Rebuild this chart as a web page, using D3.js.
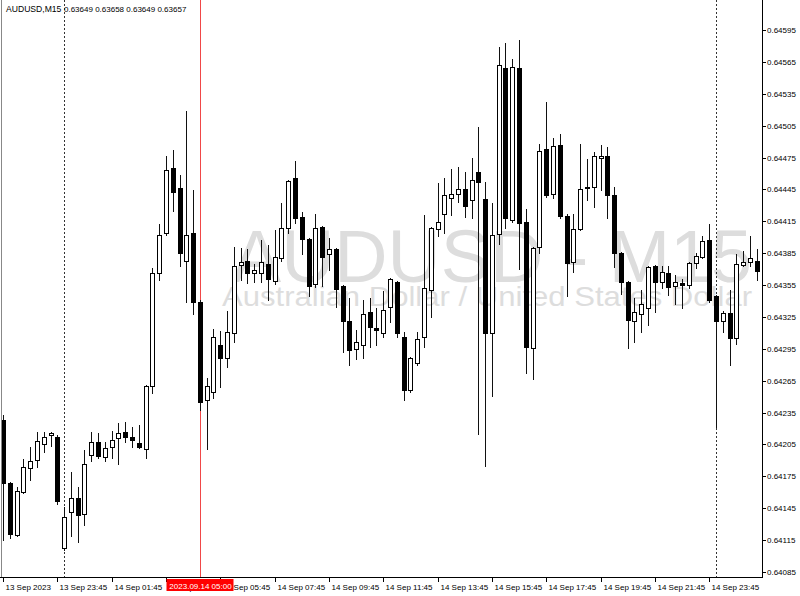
<!DOCTYPE html>
<html>
<head>
<meta charset="utf-8">
<script src="https://cdn.jsdelivr.net/npm/d3@7/dist/d3.min.js"></script>
<style>
  html, body { margin: 0; padding: 0; background: #fff; }
  svg { display: block; }
  text { font-family: "Liberation Sans", Arial, sans-serif; }
</style>
</head>
<body>
<svg id="chart" width="800" height="596"></svg>
<script>
// AUDUSD M15, 13 Sep 2023 21:45 .. 15 Sep 2023 01:30
var symbolTitle = "AUDUSD,M15";
var headerQuote = "0.63649 0.63658 0.63649 0.63657";
var watermarkTitle = "AUDUSD - M15";
var watermarkSub = "Australian Dollar / United States Dollar";

var opens = [
  0.64228, 0.64169, 0.64120, 0.64160, 0.64183, 0.64190, 0.64205, 0.64214, 0.64212, 0.64108,
  0.64141, 0.64155, 0.64140, 0.64195, 0.64207, 0.64193, 0.64203, 0.64211, 0.64217, 0.64212,
  0.64206, 0.64201, 0.64260, 0.64366, 0.64404, 0.64465, 0.64446, 0.64378, 0.64404, 0.64339,
  0.64247, 0.64254, 0.64299, 0.64286, 0.64310, 0.64374, 0.64378, 0.64366, 0.64366, 0.64375,
  0.64359, 0.64380, 0.64409, 0.64456, 0.64419, 0.64398, 0.64356, 0.64410, 0.64384, 0.64389,
  0.64354, 0.64321, 0.64295, 0.64299, 0.64330, 0.64315, 0.64310, 0.64334, 0.64358, 0.64306,
  0.64256, 0.64282, 0.64306, 0.64350, 0.64408, 0.64422, 0.64437, 0.64441, 0.64445, 0.64435,
  0.64461, 0.64436, 0.64310, 0.64403, 0.64559, 0.64416, 0.64559, 0.64414, 0.64296, 0.64391,
  0.64483, 0.64441, 0.64487, 0.64420, 0.64377, 0.64408, 0.64446, 0.64447, 0.64475, 0.64476,
  0.64440, 0.64385, 0.64358, 0.64321, 0.64328, 0.64333, 0.64373, 0.64358, 0.64366, 0.64354,
  0.64357, 0.64355, 0.64376, 0.64381, 0.64397, 0.64345, 0.64321, 0.64329, 0.64305, 0.64374,
  0.64377, 0.64378
];
var highs = [
  0.64233, 0.64170, 0.64165, 0.64191, 0.64203, 0.64217, 0.64217, 0.64217, 0.64214, 0.64146,
  0.64179, 0.64165, 0.64200, 0.64217, 0.64216, 0.64207, 0.64218, 0.64225, 0.64226, 0.64221,
  0.64223, 0.64261, 0.64371, 0.64412, 0.64476, 0.64482, 0.64459, 0.64519, 0.64444, 0.64341,
  0.64268, 0.64314, 0.64312, 0.64331, 0.64391, 0.64390, 0.64389, 0.64375, 0.64397, 0.64393,
  0.64407, 0.64432, 0.64454, 0.64472, 0.64424, 0.64399, 0.64422, 0.64411, 0.64399, 0.64390,
  0.64355, 0.64343, 0.64313, 0.64341, 0.64343, 0.64333, 0.64349, 0.64362, 0.64359, 0.64311,
  0.64287, 0.64311, 0.64421, 0.64410, 0.64451, 0.64456, 0.64464, 0.64466, 0.64461, 0.64475,
  0.64504, 0.64452, 0.64432, 0.64579, 0.64583, 0.64568, 0.64586, 0.64427, 0.64391, 0.64488,
  0.64527, 0.64493, 0.64497, 0.64422, 0.64422, 0.64488, 0.64474, 0.64480, 0.64487, 0.64485,
  0.64447, 0.64386, 0.64359, 0.64343, 0.64350, 0.64373, 0.64374, 0.64373, 0.64373, 0.64364,
  0.64361, 0.64377, 0.64385, 0.64401, 0.64412, 0.64346, 0.64331, 0.64350, 0.64384, 0.64387,
  0.64401, 0.64389
];
var lows = [
  0.64115, 0.64117, 0.64119, 0.64159, 0.64172, 0.64184, 0.64198, 0.64204, 0.64149, 0.64106,
  0.64119, 0.64113, 0.64129, 0.64189, 0.64192, 0.64189, 0.64192, 0.64187, 0.64207, 0.64203,
  0.64202, 0.64192, 0.64253, 0.64360, 0.64402, 0.64425, 0.64373, 0.64339, 0.64328, 0.64237,
  0.64201, 0.64249, 0.64259, 0.64278, 0.64301, 0.64360, 0.64357, 0.64358, 0.64358, 0.64341,
  0.64356, 0.64378, 0.64404, 0.64413, 0.64384, 0.64345, 0.64353, 0.64354, 0.64369, 0.64334,
  0.64292, 0.64280, 0.64285, 0.64286, 0.64297, 0.64299, 0.64306, 0.64320, 0.64306, 0.64247,
  0.64254, 0.64280, 0.64297, 0.64325, 0.64401, 0.64404, 0.64421, 0.64433, 0.64419, 0.64418,
  0.64215, 0.64185, 0.64251, 0.64394, 0.64409, 0.64414, 0.64370, 0.64272, 0.64267, 0.64385,
  0.64438, 0.64437, 0.64418, 0.64345, 0.64367, 0.64407, 0.64435, 0.64428, 0.64444, 0.64418,
  0.64372, 0.64347, 0.64296, 0.64301, 0.64311, 0.64317, 0.64330, 0.64352, 0.64346, 0.64337,
  0.64333, 0.64352, 0.64371, 0.64380, 0.64339, 0.64221, 0.64311, 0.64280, 0.64300, 0.64373,
  0.64373, 0.64360
];
var closes = [
  0.64169, 0.64121, 0.64161, 0.64184, 0.64189, 0.64208, 0.64212, 0.64216, 0.64152, 0.64137,
  0.64155, 0.64139, 0.64187, 0.64207, 0.64194, 0.64202, 0.64209, 0.64216, 0.64212, 0.64209,
  0.64203, 0.64260, 0.64366, 0.64402, 0.64463, 0.64443, 0.64385, 0.64402, 0.64339, 0.64245,
  0.64260, 0.64306, 0.64286, 0.64311, 0.64373, 0.64377, 0.64366, 0.64369, 0.64377, 0.64361,
  0.64381, 0.64409, 0.64453, 0.64418, 0.64398, 0.64354, 0.64409, 0.64381, 0.64389, 0.64351,
  0.64321, 0.64294, 0.64301, 0.64328, 0.64316, 0.64313, 0.64332, 0.64361, 0.64310, 0.64256,
  0.64286, 0.64304, 0.64352, 0.64409, 0.64414, 0.64440, 0.64441, 0.64445, 0.64429, 0.64454,
  0.64452, 0.64310, 0.64402, 0.64562, 0.64418, 0.64560, 0.64413, 0.64297, 0.64390, 0.64481,
  0.64440, 0.64486, 0.64420, 0.64376, 0.64408, 0.64445, 0.64447, 0.64476, 0.64476, 0.64440,
  0.64385, 0.64358, 0.64322, 0.64330, 0.64337, 0.64372, 0.64358, 0.64367, 0.64353, 0.64358,
  0.64355, 0.64376, 0.64382, 0.64396, 0.64341, 0.64321, 0.64329, 0.64305, 0.64375, 0.64377,
  0.64380, 0.64368
];

var priceTicks = [
  0.64085, 0.64115, 0.64145, 0.64175, 0.64205, 0.64235, 0.64265, 0.64295, 0.64325,
  0.64355, 0.64385, 0.64415, 0.64445, 0.64475, 0.64505, 0.64535, 0.64565, 0.64595
];
var timeTickBars = [0, 8, 16, 24, 32, 40, 48, 56, 64, 72, 80, 88, 96, 104];
var timeTickLabels = [
  "13 Sep 2023", "13 Sep 23:45", "14 Sep 01:45", "14 Sep 03:45", "14 Sep 05:45",
  "14 Sep 07:45", "14 Sep 09:45", "14 Sep 11:45", "14 Sep 13:45", "14 Sep 15:45",
  "14 Sep 17:45", "14 Sep 19:45", "14 Sep 21:45", "14 Sep 23:45"
];
var daySeparatorBars = [9, 105];
var markerBar = 29;
var markerLabel = "2023.09.14 05:00";

var svg = d3.select("#chart");
var plotRight = 762, plotBottom = 577;

var bars = d3.range(opens.length).map(function(i) {
  return {i: i, o: opens[i], h: highs[i], l: lows[i], c: closes[i]};
});

var x = d3.scaleLinear().domain([0, bars.length - 1]).range([3, 756.7]);
var y = d3.scaleLinear().domain([0.64085, 0.64595]).range([572, 30]);

function px(i) { return Math.round(x(i)); }
function py(v) { return Math.round(y(v)); }

// watermark
svg.append("text")
  .attr("x", 232).attr("y", 282)
  .attr("textLength", 520).attr("lengthAdjust", "spacingAndGlyphs")
  .style("font-size", "74px").style("fill", "#dddddd")
  .text(watermarkTitle);
svg.append("text")
  .attr("x", 222).attr("y", 306)
  .attr("textLength", 530).attr("lengthAdjust", "spacingAndGlyphs")
  .style("font-size", "28px").style("fill", "#dddddd")
  .text(watermarkSub);

// day separators and current-time marker
svg.selectAll(".sep").data(daySeparatorBars).enter().append("line")
  .attr("class", "sep")
  .attr("x1", function(d) { return px(d) + 0.5; })
  .attr("x2", function(d) { return px(d) + 0.5; })
  .attr("y1", 0).attr("y2", plotBottom)
  .attr("stroke", "#333").attr("stroke-dasharray", "2,2");

svg.append("line")
  .attr("x1", px(markerBar) + 0.5).attr("x2", px(markerBar) + 0.5)
  .attr("y1", 0).attr("y2", plotBottom)
  .attr("stroke", "#f04848");

// candles
var candle = svg.append("g").selectAll("g").data(bars).enter().append("g");

candle.append("line")
  .attr("x1", function(d) { return px(d.i) + 0.5; })
  .attr("x2", function(d) { return px(d.i) + 0.5; })
  .attr("y1", function(d) { return py(d.h); })
  .attr("y2", function(d) { return py(d.l) + 1; })
  .attr("stroke", "#111");

candle.append("rect")
  .attr("x", function(d) { return px(d.i) - 2 + 0.5; })
  .attr("y", function(d) { return py(Math.max(d.o, d.c)) + 0.5; })
  .attr("width", 4)
  .attr("height", function(d) {
    return Math.max(py(Math.min(d.o, d.c)) - py(Math.max(d.o, d.c)), 0);
  })
  .attr("fill", function(d) { return d.c >= d.o ? "#fff" : "#000"; })
  .attr("stroke", "#000");

// frame
svg.append("line").attr("x1", 1.5).attr("x2", 1.5).attr("y1", 0).attr("y2", plotBottom)
  .attr("stroke", "#888");
svg.append("line").attr("x1", plotRight + 0.5).attr("x2", plotRight + 0.5)
  .attr("y1", 0).attr("y2", plotBottom + 1).attr("stroke", "#000");
svg.append("line").attr("x1", 0).attr("x2", plotRight + 1)
  .attr("y1", plotBottom + 0.5).attr("y2", plotBottom + 0.5).attr("stroke", "#000");

// price axis
var yTick = svg.append("g").selectAll("g").data(priceTicks).enter().append("g")
  .attr("transform", function(d) { return "translate(0," + (py(d) + 0.5) + ")"; });
yTick.append("line").attr("x1", plotRight).attr("x2", plotRight + 4).attr("stroke", "#000");
yTick.append("text")
  .attr("x", plotRight + 5).attr("dy", "0.35em")
  .style("font-size", "8px").style("fill", "#000")
  .text(function(d) { return d.toFixed(5); });

// time axis
var xTick = svg.append("g").selectAll("g").data(timeTickBars).enter().append("g")
  .attr("transform", function(d) { return "translate(" + (px(d) + 0.5) + ",0)"; });
xTick.append("line").attr("y1", plotBottom).attr("y2", plotBottom + 5).attr("stroke", "#000");
xTick.append("text")
  .attr("x", 2).attr("y", 590)
  .style("font-size", "8px").style("fill", "#000")
  .text(function(d, k) { return timeTickLabels[k]; });

// marker label on the time axis
var mx = px(markerBar) + 0.5;
svg.append("rect")
  .attr("x", mx - 34).attr("y", 579).attr("width", 67).attr("height", 12)
  .attr("fill", "#ff0000");
svg.append("text")
  .attr("x", mx).attr("y", 589).attr("text-anchor", "middle")
  .style("font-size", "8px").style("fill", "#fff")
  .text(markerLabel);

// header
svg.append("text").attr("x", 6).attr("y", 12)
  .style("font-size", "8.6px").style("fill", "#000").text(symbolTitle);
svg.append("text").attr("x", 64).attr("y", 12)
  .style("font-size", "8px").style("fill", "#000").text(headerQuote);
</script>
</body>
</html>
